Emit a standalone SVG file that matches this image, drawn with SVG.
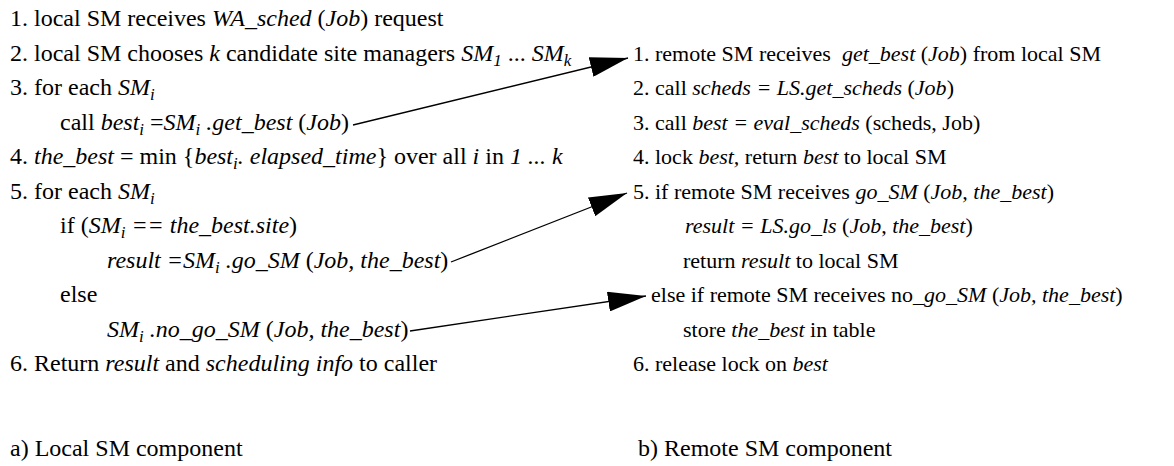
<svg xmlns="http://www.w3.org/2000/svg" width="1174" height="466" viewBox="0 0 1174 466" font-family="'Liberation Serif', 'Times New Roman', Times, 'DejaVu Serif', serif">
<defs>
<style>
text { font-family: "Liberation Serif", "Times New Roman", Times, "DejaVu Serif", serif; font-size: 24px; fill: #000; white-space: pre; }
#remote-sm text { font-size: 22px; }
.i { font-style: italic; }
.sub { font-size: 17px; font-style: italic; }
.conn { stroke: #000; stroke-width: 1.3; fill: none; marker-end: url(#ah); }
</style>
<marker id="ah" markerUnits="userSpaceOnUse" markerWidth="38" markerHeight="20" refX="38" refY="10" orient="auto">
<path d="M0,0 L38,10 L0,20 z" fill="#000"/>
</marker>
</defs>
<rect width="1174" height="466" fill="#fff"/>
<g id="local-sm">
<text x="10" y="26">1. local SM receives <tspan class="i">WA_sched</tspan> (<tspan class="i">Job</tspan>) request</text>
<text x="10" y="60.5">2. local SM chooses <tspan class="i">k</tspan> candidate site managers <tspan class="i">SM</tspan><tspan class="sub" dy="5">1</tspan><tspan dy="-5"> ... </tspan><tspan class="i">SM</tspan><tspan class="sub" dy="5">k</tspan></text>
<text x="10" y="95">3. for each <tspan class="i">SM</tspan><tspan class="sub" dy="5">i</tspan></text>
<text x="60" y="129.5">call <tspan class="i">best</tspan><tspan class="sub" dy="5">i</tspan><tspan dy="-5"> =</tspan><tspan class="i">SM</tspan><tspan class="sub" dy="5">i</tspan><tspan class="i" dy="-5"> .get_best</tspan> (<tspan class="i">Job</tspan>)</text>
<text x="10" y="164">4. <tspan class="i">the_best</tspan> = min {<tspan class="i">best</tspan><tspan class="sub" dy="5">i</tspan><tspan class="i" dy="-5">. elapsed_time</tspan>} over all <tspan class="i">i</tspan> in <tspan class="i">1 ... k</tspan></text>
<text x="10" y="198.5">5. for each <tspan class="i">SM</tspan><tspan class="sub" dy="5">i</tspan></text>
<text x="60" y="233">if (<tspan class="i">SM</tspan><tspan class="sub" dy="5">i</tspan><tspan class="i" dy="-5"> == the_best.site</tspan>)</text>
<text x="107" y="267.5"><tspan class="i">result =SM</tspan><tspan class="sub" dy="5">i</tspan><tspan class="i" dy="-5"> .go_SM</tspan> (<tspan class="i">Job, the_best</tspan>)</text>
<text x="60" y="302">else</text>
<text x="107" y="336.5"><tspan class="i">SM</tspan><tspan class="sub" dy="5">i</tspan><tspan class="i" dy="-5"> .no_go_SM</tspan> (<tspan class="i">Job, the_best</tspan>)</text>
<text x="10" y="371">6. Return <tspan class="i">result</tspan> and <tspan class="i">scheduling info</tspan> to caller</text>
</g>
<g id="remote-sm">
<text x="633" y="60.5">1. remote SM receives  <tspan class="i">get_best</tspan> (<tspan class="i">Job</tspan>) from local SM</text>
<text x="633" y="95">2. call <tspan class="i">scheds = LS.get_scheds</tspan> (<tspan class="i">Job</tspan>)</text>
<text x="633" y="129.5">3. call <tspan class="i">best = eval_scheds</tspan> (scheds, Job)</text>
<text x="633" y="164">4. lock <tspan class="i">best,</tspan> return <tspan class="i">best</tspan> to local SM</text>
<text x="633" y="198.5">5. if remote SM receives <tspan class="i">go_SM</tspan> (<tspan class="i">Job, the_best</tspan>)</text>
<text x="685" y="233"><tspan class="i">result = LS.go_ls</tspan> (<tspan class="i">Job</tspan>, <tspan class="i">the_best</tspan>)</text>
<text x="683" y="267.5">return <tspan class="i">result</tspan> to local SM</text>
<text x="651" y="302">else if remote SM receives no<tspan class="i">_go_SM</tspan> (<tspan class="i">Job, the_best</tspan>)</text>
<text x="683" y="336.5">store <tspan class="i">the_best</tspan> in table</text>
<text x="633" y="371">6. release lock on <tspan class="i">best</tspan></text>
</g>
<g id="captions">
<text x="10" y="456">a) Local SM component</text>
<text x="638" y="456">b) Remote SM component</text>
</g>
<g id="connectors">
<line class="conn" x1="353" y1="125" x2="628" y2="58"/>
<line class="conn" x1="451" y1="262" x2="627" y2="193"/>
<line class="conn" x1="410" y1="331" x2="646" y2="296"/>
</g>
</svg>
